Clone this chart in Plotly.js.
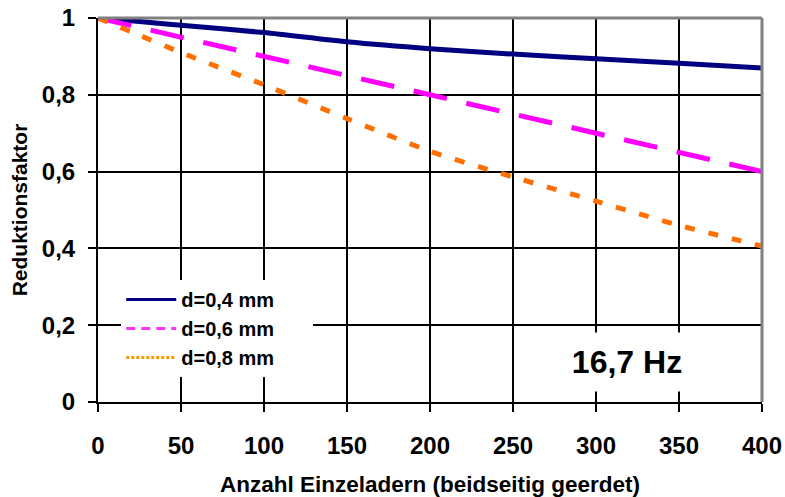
<!DOCTYPE html>
<html>
<head>
<meta charset="utf-8">
<script src="https://cdn.plot.ly/plotly-3.0.1.min.js"></script>
<style>html,body{margin:0;padding:0;background:#fff}#chart{width:785px;height:497px}</style>
</head>
<body>
<div id="chart"></div>
<script>
// Data
var anzahl = [0, 25, 50, 100, 150, 200, 250, 300, 350, 400];
var d04 = [1, 0.991, 0.981, 0.962, 0.938, 0.920, 0.906, 0.894, 0.882, 0.870];
var d06 = [1, 0.975, 0.95, 0.90, 0.85, 0.80, 0.75, 0.70, 0.65, 0.60];
var d08 = [1, 0.955, 0.910, 0.826, 0.738, 0.653, 0.586, 0.523, 0.460, 0.406];
var seriesNames = ['d=0,4 mm', 'd=0,6 mm', 'd=0,8 mm'];
var xTicks = [0, 50, 100, 150, 200, 250, 300, 350, 400];
var yTicks = [0, 0.2, 0.4, 0.6, 0.8, 1];
var xTitle = 'Anzahl Einzeladern (beidseitig geerdet)';
var yTitle = 'Reduktionsfaktor';
var note = '16,7 Hz';

var FONT = 'Liberation Sans, Arial, sans-serif';
var colors = ['#000080', '#ff00ff', '#ff7000'];
var PAD = '\u00a0\u00a0\u00a0\u00a0\u00a0\u00a0';

var traces = [
  {x: anzahl, y: d04, name: seriesNames[0], mode: 'lines', showlegend: false,
   line: {color: colors[0], width: 5, shape: 'spline', smoothing: 0.8}},
  {x: anzahl, y: d06, name: seriesNames[1], mode: 'lines', showlegend: false,
   line: {color: colors[1], width: 5, dash: '34px,20px'}},
  {x: anzahl, y: d08, name: seriesNames[2], mode: 'lines', showlegend: false,
   line: {color: colors[2], width: 5, dash: '10px,14px', shape: 'spline', smoothing: 0.6}},
  // legend samples (thinner lines, as in the reference legend)
  {x: [null], y: [null], name: seriesNames[0] + PAD, mode: 'lines', line: {color: colors[0], width: 3}},
  {x: [null], y: [null], name: seriesNames[1] + PAD, mode: 'lines', line: {color: '#ff33ff', width: 3, dash: '9px,6px'}},
  {x: [null], y: [null], name: seriesNames[2] + PAD, mode: 'lines', line: {color: '#ff9900', width: 3, dash: '3px,2px'}}
];

var layout = {
  width: 785, height: 497,
  margin: {l: 98, r: 23, t: 18, b: 95},
  paper_bgcolor: '#ffffff', plot_bgcolor: '#ffffff',
  separators: ',.',
  font: {family: FONT, color: '#000', size: 16},
  showlegend: true,
  legend: {
    x: 0.035, y: 0.318, xanchor: 'left', yanchor: 'top',
    bgcolor: '#ffffff', borderwidth: 0,
    font: {family: FONT, size: 20, color: '#000', weight: 'bold'},
    itemwidth: 50, tracegroupgap: 0
  },
  xaxis: {
    range: [0, 400], tickvals: xTicks, ticks: 'outside', ticklen: 8, tickwidth: 2, tickcolor: '#000',
    showgrid: true, gridcolor: '#000', gridwidth: 2,
    zeroline: false, showline: true, linecolor: '#000', linewidth: 2,
    tickfont: {family: FONT, size: 24, weight: 'bold'}, ticklabelstandoff: 13,
    title: {text: xTitle, font: {family: FONT, size: 22.5, weight: 'bold'}, standoff: 24},
    fixedrange: true
  },
  yaxis: {
    range: [0, 1], tickvals: yTicks, ticks: 'outside', ticklen: 8, tickwidth: 2, tickcolor: '#000',
    showgrid: true, gridcolor: '#000', gridwidth: 2,
    zeroline: false, showline: true, linecolor: '#000', linewidth: 2,
    tickfont: {family: FONT, size: 24, weight: 'bold'}, ticklabelstandoff: 8,
    title: {text: yTitle, font: {family: FONT, size: 21, weight: 'bold'}, standoff: 8},
    fixedrange: true
  },
  shapes: [
    {type: 'line', xref: 'paper', yref: 'paper', x0: 0, x1: 1, y0: 1, y1: 1, line: {color: '#808080', width: 3}},
    {type: 'line', xref: 'paper', yref: 'paper', x0: 1, x1: 1, y0: 0, y1: 1, line: {color: '#808080', width: 3}}
  ],
  annotations: [
    {text: note, xref: 'paper', yref: 'paper', x: 0.797, y: 0.104, xanchor: 'center', yanchor: 'middle',
     showarrow: false, bgcolor: '#ffffff', width: 190, height: 56,
     font: {family: FONT, size: 32, weight: 'bold', color: '#000'}}
  ]
};

Plotly.newPlot('chart', traces, layout, {displayModeBar: false, staticPlot: true});
</script>
</body>
</html>
